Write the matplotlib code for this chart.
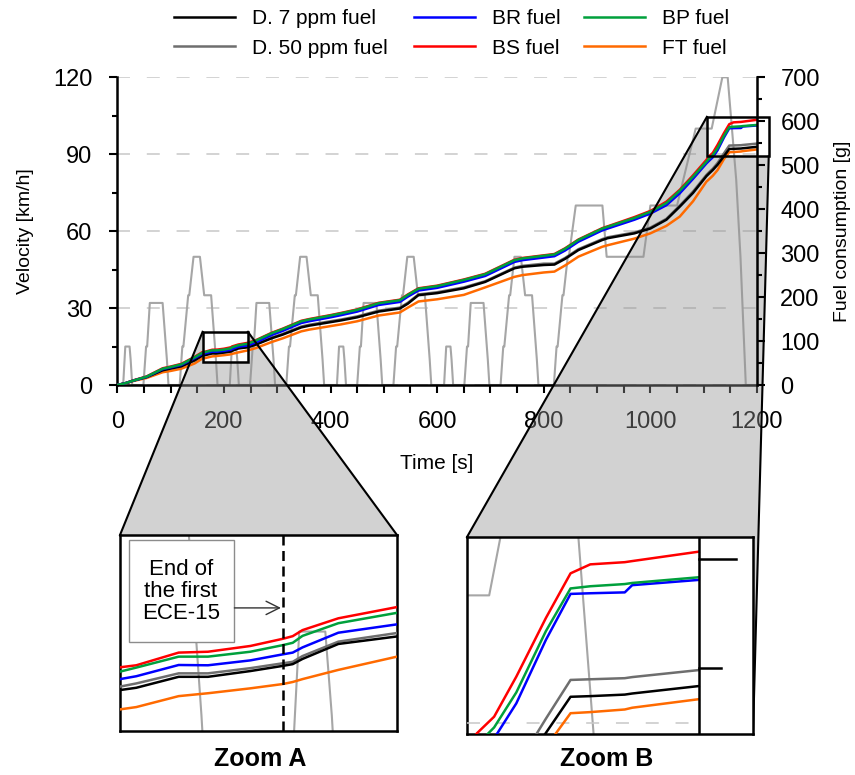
import numpy as np
import matplotlib
matplotlib.use('Agg')
import matplotlib.pyplot as plt
from matplotlib.patches import Polygon, Rectangle
from matplotlib.lines import Line2D

plt.rcParams['font.family'] = ['Liberation Sans', 'DejaVu Sans']

# ---------------- data ----------------
# ECE-15 urban cycle (time within cycle [s], velocity [km/h])
ECE_T = [0, 11, 15, 23, 25, 28, 49, 54, 56, 61, 85, 93, 96, 117, 122, 124, 133, 135, 143, 155, 163, 176, 185, 188, 195]
ECE_V = [0, 0, 15, 15, 10, 0, 0, 15, 15, 32, 32, 10, 0, 0, 15, 15, 35, 35, 50, 50, 35, 35, 10, 0, 0]
ECE_STARTS = [0, 200, 401, 602]
# EUDC extra-urban cycle
EUDC_T = [0, 20, 25, 27, 36, 38, 46, 48, 61, 111, 119, 188, 201, 251, 286, 316, 336, 346, 362, 370, 380, 401]
EUDC_V = [0, 0, 15, 15, 35, 35, 50, 50, 70, 70, 50, 50, 70, 70, 100, 100, 120, 120, 80, 50, 0, 0]
EUDC_START = 799

# cumulative fuel consumption [g]
T_FUEL = [0, 15, 30, 55, 85, 100, 120, 145, 160, 165, 178, 187, 200, 210, 213, 216, 227, 245, 260, 290,
          310, 345, 360, 400, 420, 450, 490, 530, 545, 565, 600, 650, 690, 745, 760, 800, 820, 840, 865,
          910, 920, 970, 1000, 1030, 1055, 1080, 1105, 1110, 1117, 1126, 1138, 1148, 1156, 1170, 1173, 1200]
D7 = [0, 4, 10, 18, 33.5, 37.5, 42.5, 56, 67.2, 68, 71.8, 71.8, 73.8, 75.6, 76.2, 78, 83.2, 85.8, 92, 106.5,
      114.5, 131, 135, 143, 147, 154, 167, 174, 185, 204.5, 209, 220, 234.5, 265.5, 269, 273, 274, 287, 307,
      330, 334, 345, 356, 376, 405.6, 437, 475, 481, 489, 501, 520.5, 537, 537.3, 538, 538.5, 541.9]
D50 = [0, 4, 10, 18, 34, 38, 43, 57, 68.4, 69.5, 73, 73, 74.8, 76.5, 77, 79, 84, 87, 93, 108,
       116, 133, 137, 145, 149, 156, 169, 176, 187, 206, 211, 222, 236, 267, 271, 276, 276, 289, 309,
       332, 336, 347, 358, 378, 408, 440, 477.7, 484, 492, 505, 527, 544.7, 545, 545.5, 546, 549.2]
BR = [0, 4, 10, 18.5, 36, 40, 45.5, 61, 71, 72, 75.9, 75.8, 77.5, 79.6, 80.2, 82, 87.1, 90, 97, 114,
      123, 141, 145, 154, 159, 167, 182, 189, 201, 215, 221, 235, 248, 280, 284, 290, 293, 306, 326,
      352, 356, 376, 390, 409, 436, 469, 504, 510, 518, 534, 563, 584, 584.3, 584.7, 588, 590.4]
BS = [0, 4, 10.5, 19.5, 38, 42, 48, 64, 75.1, 75.8, 80.2, 80.5, 82.5, 85, 85.9, 88, 92.1, 96, 102, 119,
      128, 146, 150, 159, 164, 172, 187, 194, 206, 220, 226, 240, 253, 285, 289, 295, 298, 311, 331,
      357, 361, 382, 396, 417, 444, 477, 512, 520.3, 527.9, 546.2, 573, 593.4, 597.5, 598.5, 599, 603.3]
BP = [0, 4, 10, 19, 37, 41, 47, 63, 73.6, 75, 78.8, 78.8, 80.5, 82.8, 83.6, 86, 90.4, 94, 101, 118,
      127, 145, 149, 158, 163, 171, 186, 193, 205, 219, 225, 239, 252, 284, 288, 294, 297, 310, 330,
      356, 360, 380, 394, 414, 442, 474, 508, 515, 523, 539, 567, 586.5, 587.5, 588.5, 589, 591.6]
FT = [0, 3.5, 9, 16, 29, 32, 37, 49, 60.5, 61.3, 65.1, 66.1, 67.8, 69.3, 70, 71, 74.2, 78.8, 84, 98,
      106, 122, 126, 134, 138, 145, 158, 165, 176, 190, 195, 205, 222, 246, 250, 256, 258, 272, 292,
      314.6, 318, 333, 345, 362, 383, 418, 462.5, 468, 476, 489, 514, 529.5, 530, 531.2, 532, 535.9]

LABELS = ['D. 7 ppm fuel', 'D. 50 ppm fuel', 'BR fuel', 'BS fuel', 'BP fuel', 'FT fuel']
ZOOM_A = (160, 245, 53, 121)     # t0, t1, fuel0, fuel1
ZOOM_B = (1106, 1222, 520, 610)
ECE_END_MARK = 210

# ---------------- styles ----------------
COL = {'D. 7 ppm fuel': '#000000', 'D. 50 ppm fuel': '#6e6e6e', 'BR fuel': '#0000ff',
       'BS fuel': '#ff0000', 'BP fuel': '#00a03c', 'FT fuel': '#ff6a00'}
DATA = {'D. 7 ppm fuel': D7, 'D. 50 ppm fuel': D50, 'BR fuel': BR,
        'BS fuel': BS, 'BP fuel': BP, 'FT fuel': FT}
DRAW_ORDER = ['FT fuel', 'D. 50 ppm fuel', 'D. 7 ppm fuel', 'BS fuel', 'BR fuel', 'BP fuel']
VEL_COL = '#a6a6a6'
GRID_COL = '#c8c8c8'
LW = 1.8

vel_t, vel_v = [], []
for s in ECE_STARTS:
    vel_t += [s + t for t in ECE_T]
    vel_v += list(ECE_V)
vel_t += [EUDC_START + t for t in EUDC_T]
vel_v += list(EUDC_V)
vel_t = np.array(vel_t, float)
vel_v = np.array(vel_v, float)
VMAX, FMAX = 120.0, 700.0

W, H = 855, 775
fig = plt.figure(figsize=(W / 100, H / 100), dpi=100)


def fr(x0, y0, x1, y1):
    return [x0 / W, 1 - y1 / H, (x1 - x0) / W, (y1 - y0) / H]


ax1 = fig.add_axes(fr(117.3, 77.3, 757, 385))
ax2 = ax1.twinx()
ax1.set_zorder(0)
ax2.set_zorder(1)

ax1.plot(vel_t, vel_v, color=VEL_COL, lw=1.5, zorder=2)
ax1.set_xlim(0, 1200)
ax1.set_ylim(0, VMAX)
ax2.set_ylim(0, FMAX)
for name in DRAW_ORDER:
    ax2.plot(T_FUEL, DATA[name], color=COL[name], lw=LW, solid_joinstyle='round')

ax1.set_xticks(np.arange(0, 1201, 200))
ax1.set_xticks(np.arange(0, 1201, 50), minor=True)
ax1.set_yticks(np.arange(0, 121, 30))
ax1.set_yticks(np.arange(0, 121, 15), minor=True)
ax2.set_yticks(np.arange(0, 701, 100))
ax2.set_yticks(np.arange(0, 701, 50), minor=True)

ax1.yaxis.grid(True, which='major', ls=(0, (8.5, 11)), color=GRID_COL, lw=1.1)
ax1.tick_params(axis='x', which='both', direction='out', length=5.8, width=1.5, labelsize=17, pad=13)
ax1.tick_params(axis='y', which='major', direction='out', length=5.8, width=1.5, labelsize=17, pad=12)
ax1.tick_params(axis='y', which='minor', direction='out', length=3.6, width=1.5)
ax2.tick_params(axis='y', which='major', direction='out', length=5.8, width=1.5, labelsize=17, pad=11)
ax2.tick_params(axis='y', which='minor', direction='out', length=3.6, width=1.5)

for sp in ['top', 'right']:
    ax1.spines[sp].set_visible(False)
for sp in ['top', 'left', 'bottom']:
    ax2.spines[sp].set_visible(False)
for sp in ['left', 'bottom']:
    ax1.spines[sp].set_linewidth(1.8)
ax2.spines['right'].set_linewidth(1.8)

ax1.set_xlabel('Time [s]', fontsize=15, labelpad=15)
ax1.set_ylabel('Velocity [km/h]', fontsize=14, labelpad=14)
ax2.set_ylabel('Fuel consumption [g]', fontsize=14, labelpad=10)

# zoom rectangles in main chart
for (t0, t1, f0, f1) in (ZOOM_A, ZOOM_B):
    ax2.add_patch(Rectangle((t0, f0), t1 - t0, f1 - f0, fill=False, ec='black', lw=1.8,
                            clip_on=False, zorder=5))

# legend (drawn manually in pixel layout, 3 columns x 2 rows)
LEG_COLS_X = [174, 414, 584]
LEG_ROWS_Y = [17, 46]
for i, name in enumerate(LABELS):
    cx = LEG_COLS_X[i // 2]
    ry = 1 - LEG_ROWS_Y[i % 2] / H
    fig.lines.append(Line2D([cx / W, (cx + 61) / W], [ry, ry], transform=fig.transFigure,
                            color=COL[name], lw=LW))
    fig.text((cx + 78) / W, ry, name, fontsize=15, ha='left', va='center_baseline')


# ---------------- insets ----------------
def make_inset(rect, zoom):
    t0, t1, f0, f1 = zoom
    iv = fig.add_axes(rect)
    iv.set_zorder(2)
    ifu = iv.twinx()
    ifu.set_zorder(2.1)
    iv.plot(vel_t, vel_v, color=VEL_COL, lw=1.5)
    iv.set_xlim(t0, t1)
    iv.set_ylim(f0 * VMAX / FMAX, f1 * VMAX / FMAX)
    for name in DRAW_ORDER:
        ifu.plot(T_FUEL, DATA[name], color=COL[name], lw=LW, solid_joinstyle='round')
    ifu.set_ylim(f0, f1)
    for a in (iv, ifu):
        a.set_xticks([])
        a.set_yticks([])
    for sp in iv.spines.values():
        sp.set_linewidth(1.8)
    for sp in ifu.spines.values():
        sp.set_visible(False)
    return iv, ifu


insA, insA2 = make_inset(fr(120, 535, 397, 731), ZOOM_A)
insB, insB2 = make_inset(fr(467, 537, 753, 734), ZOOM_B)

# inset A: end of first ECE-15
insA2.axvline(ECE_END_MARK, color='black', lw=1.8, ls=(0, (4, 2.2)), zorder=6)
insA2.add_patch(Rectangle((0.032, 0.4525), 0.381, 0.5215, transform=insA2.transAxes,
                          fc='white', ec='#8c8c8c', lw=1.0, zorder=7))
insA2.text(0.22, 0.712, 'End of\nthe first\nECE-15', transform=insA2.transAxes, ha='center',
           va='center', fontsize=16, linespacing=1.08, zorder=8)
insA2.annotate('', xy=(0.581, 0.628), xytext=(0.413, 0.628), xycoords=insA2.transAxes,
               textcoords=insA2.transAxes,
               arrowprops=dict(arrowstyle='->', color='#333333', lw=1.0, shrinkA=0, shrinkB=0,
                               mutation_scale=24), zorder=8)

# inset B: main chart right axis, its ticks and grid line
insB2.plot([ZOOM_B[0], 1200], [525, 525], color=GRID_COL, lw=1.1, ls=(0, (8.5, 11)), zorder=1)
insB2.plot([1200, 1200], [ZOOM_B[2], ZOOM_B[3]], color='black', lw=1.8, zorder=6)
insB2.plot([1200, 1215.3], [600, 600], color='black', lw=1.8, zorder=6)
insB2.plot([1200, 1209.2], [550, 550], color='black', lw=1.8, zorder=6)

fig.text(260 / W, 1 - 759 / H, 'Zoom A', fontsize=18, fontweight='bold', ha='center', va='center')
fig.text(607 / W, 1 - 759 / H, 'Zoom B', fontsize=18, fontweight='bold', ha='center', va='center')

# ---------------- connectors ----------------
inv = fig.transFigure.inverted()


def dpt(ax, pts):
    return inv.transform(ax.transData.transform(pts))


def apt(ax, pts):
    return inv.transform(ax.transAxes.transform(pts))


tA0, tA1, fA0, fA1 = ZOOM_A
rA = dpt(ax2, [(tA0, fA1), (tA1, fA1), (tA1, fA0), (tA0, fA0)])  # TL TR BR BL
iA = apt(insA, [(0, 1), (1, 1), (1, 0), (0, 0)])
tB0, tB1, fB0, fB1 = ZOOM_B
rB = dpt(ax2, [(tB0, fB1), (tB1, fB1), (tB1, fB0), (tB0, fB0)])
iB = apt(insB, [(0, 1), (1, 1), (1, 0), (0, 0)])

polyA = [rA[0], iA[0], iA[1], rA[1], rA[2], rA[3]]
polyB = [rB[0], iB[0], iB[1], iB[2], rB[2], rB[3]]
for poly in (polyA, polyB):
    fig.patches.append(Polygon(poly, closed=True, transform=fig.transFigure, fc='#929292',
                               alpha=0.41, ec='none', zorder=0.5))

for p, q in [(rA[0], iA[0]), (rA[1], iA[1]), (rB[0], iB[0]), (rB[2], iB[2])]:
    fig.lines.append(Line2D([p[0], q[0]], [p[1], q[1]], transform=fig.transFigure,
                            color='black', lw=1.5, zorder=1.5))

fig.savefig('out.png', dpi=100)
